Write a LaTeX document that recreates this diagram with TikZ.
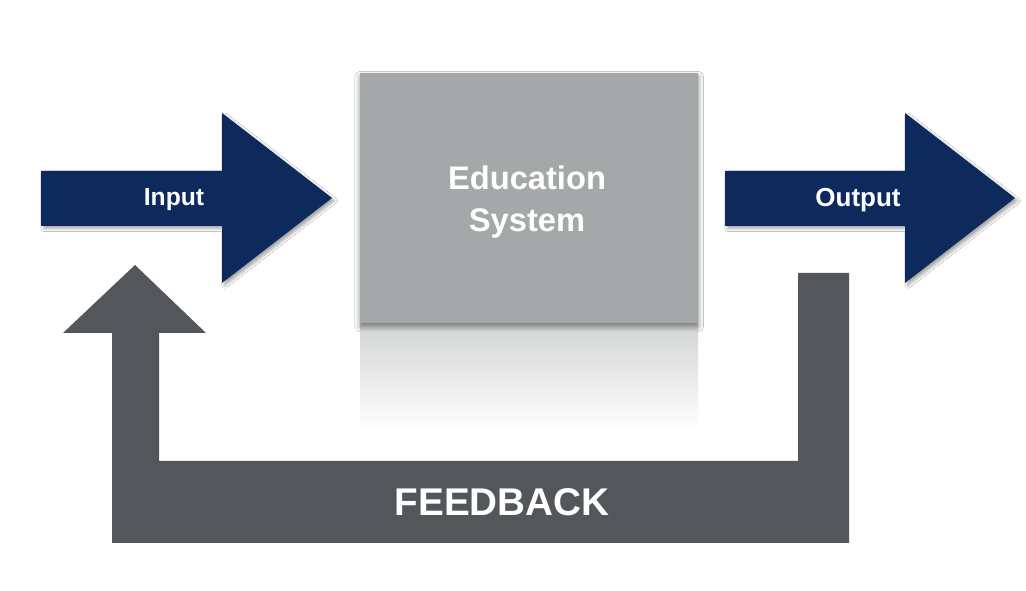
\documentclass[tikz,border=0pt]{standalone}
\usepackage{fontspec}
\setmainfont{Liberation Sans}
\usetikzlibrary{shadows.blur}
\definecolor{navy}{HTML}{0E2A5C}
\definecolor{boxgray}{HTML}{A5A8A8}
\definecolor{fbgray}{HTML}{53565B}
\tikzset{
  arrowshape/.style={fill=navy, blur shadow={shadow xshift=2pt, shadow yshift=-2pt, shadow blur steps=6, shadow opacity=35}},
  fbshape/.style={fill=fbgray},
  lbl/.style={text=white, font=\bfseries, inner sep=0pt, align=center},
}
\begin{document}
\begin{tikzpicture}[x=0.75pt, y=-0.75pt]
\fill[white] (0,0) rectangle (1026,591);
\useasboundingbox (0,0) rectangle (1026,591);

% reflection below the box
\shade[top color=boxgray!50, bottom color=white] (360,323) rectangle (698,430);
% box
\node[fill=boxgray, minimum width=338*0.75pt, minimum height=250*0.75pt, inner sep=0pt, anchor=north west,
      blur shadow={shadow xshift=0pt, shadow yshift=-2.5pt, shadow blur steps=8, shadow blur radius=4pt, shadow opacity=45}] (box) at (360,73) {};
\node[lbl, font=\bfseries\fontsize{24.5}{31.5}\selectfont] (edu) at (527,202) {Education\\System};

% input arrow
\path[arrowshape] (41,171) -- (222,171) -- (222,113) -- (332,198) -- (222,283) -- (222,226) -- (41,226) -- cycle;
\node[lbl, font=\bfseries\fontsize{18.5}{20}\selectfont] (in) at (174,200) {Input};

% output arrow
\path[arrowshape] (725,171) -- (905,171) -- (905,113) -- (1015,198) -- (905,283) -- (905,226) -- (725,226) -- cycle;
\node[lbl, font=\bfseries\fontsize{19.5}{21}\selectfont] (out) at (858,200) {Output};

% feedback loop
\fill[fbshape] (798,273) -- (849,273) -- (849,543) -- (112,543) -- (112,333) -- (63,333) -- (135,265) -- (206,333) -- (159,333) -- (159,461) -- (798,461) -- cycle;
\node[lbl, font=\bfseries\fontsize{29}{31}\selectfont] (fb) at (502,502) {FEEDBACK};
\end{tikzpicture}
\end{document}
